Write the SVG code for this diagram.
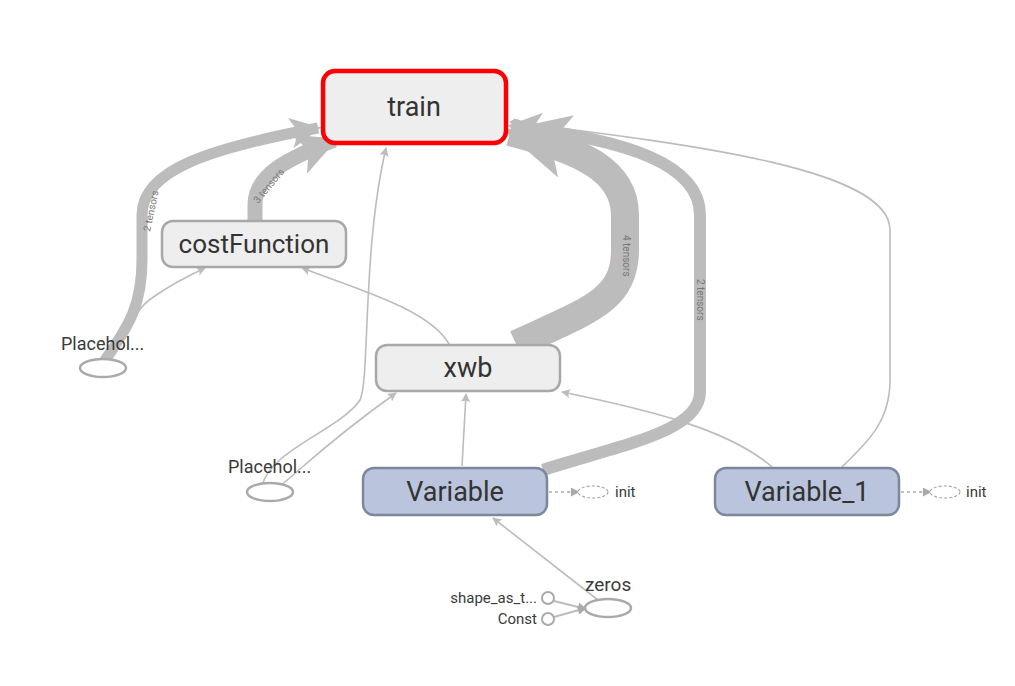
<svg xmlns="http://www.w3.org/2000/svg" width="1015" height="686" viewBox="0 0 1015 686">
<style>
.bg{fill:#fff}
.op rect{fill:#eeeeee;stroke:#a8a8a8;stroke-width:2.5}
.var rect{fill:#bac5dd;stroke:#7d889c;stroke-width:2.5}
.lbl{font-family:Roboto,"Liberation Sans",sans-serif;fill:#333;text-anchor:middle}
.sm{font-family:Roboto,"Liberation Sans",sans-serif;fill:#3a3a3a}
.el{font-family:Roboto,"Liberation Sans",sans-serif;font-size:10px;fill:#777}
.e{fill:none;stroke:#bcbcbc}
.thin{stroke-width:1.6;marker-end:url(#ah)}
.ell{fill:#fff;stroke:#aaa;stroke-width:2.5}
</style>
<defs>
<marker id="ah" viewBox="0 0 10 10" refX="9" refY="5" markerWidth="11" markerHeight="9" markerUnits="userSpaceOnUse" orient="auto"><path d="M0,0 L10,5 L0,10 L2,5 z" fill="#bcbcbc"/></marker>
<marker id="big" viewBox="0 0 10 10" refX="9" refY="5" markerWidth="3.6" markerHeight="2.8" markerUnits="strokeWidth" orient="auto"><path d="M0,0 L10,5 L0,10 L2.5,5 z" fill="#bcbcbc"/></marker>
<marker id="bigs" viewBox="0 0 10 10" refX="9" refY="5" markerWidth="2.4" markerHeight="2.3" markerUnits="strokeWidth" orient="auto"><path d="M0,0 L10,5 L0,10 L2.5,5 z" fill="#bcbcbc"/></marker>
<marker id="dah" viewBox="0 0 10 10" refX="9" refY="5" markerWidth="10" markerHeight="9" markerUnits="userSpaceOnUse" orient="auto"><path d="M0,0 L10,5 L0,10 z" fill="#aaa"/></marker>
</defs>
<rect class="bg" width="1015" height="686"/>
<g id="edges">
<path class="e" stroke-width="11" marker-end="url(#big)" d="M104,362 C125,330 142,310 142,260 L142,215 C142,170 210,148 318,128"/>
<path class="e" stroke-width="15" marker-end="url(#big)" d="M255,222 L255,205 C255,175 285,160 334,140"/>
<path class="e" stroke-width="28" marker-end="url(#bigs)" d="M516,344 C590,310 625,300 625,250 L625,215 C625,170 580,150 510,132"/>
<path class="e" stroke-width="12" marker-end="url(#big)" d="M543,470 C620,445 700,432 700,392 L700,215 C700,165 630,140 511,126"/>
<path class="e thin" d="M842,467 C870,440 890,420 890,380 L890,230 C890,170 700,145 510,122"/>
<path class="e thin" d="M449,344 C430,310 360,290 302,268"/>
<path class="e thin" d="M104,362 C125,330 140,305 152,298 C170,285 190,275 205,268"/>
<path class="e thin" d="M280,486 C300,470 330,440 396,393"/>
<path class="e thin" d="M262,486 C270,450 340,430 360,400 C370,380 362,250 386,148"/>
<path class="e thin" d="M462,466 L466,394"/>
<path class="e thin" d="M772,467 C730,430 650,410 562,392"/>
<path class="e thin" d="M598,600 L493,518"/>
<path class="e" stroke-width="2" stroke="#aaa" marker-end="url(#dah)" d="M554,601 L586,609"/>
<path class="e" stroke-width="2" stroke="#aaa" marker-end="url(#dah)" d="M554,617 L586,608"/>
<path fill="none" stroke="#aaa" stroke-width="1.5" stroke-dasharray="3,3" marker-end="url(#dah)" d="M549,492 L579,492"/>
<path fill="none" stroke="#aaa" stroke-width="1.5" stroke-dasharray="3,3" marker-end="url(#dah)" d="M901,492 L931,492"/>
<text class="el" transform="translate(150,232) rotate(-78)">2 tensors</text>
<text class="el" transform="translate(258,204) rotate(-50)">3 tensors</text>
<text class="el" transform="translate(623,235) rotate(90)">4 tensors</text>
<text class="el" transform="translate(697,279) rotate(90)">2 tensors</text>
</g>
<g id="train" class="op"><rect x="323" y="71" width="183" height="72" rx="12" style="stroke:#ff0000;stroke-width:4.5"/><text class="lbl" x="414" y="116" font-size="27">train</text></g>
<g id="costFunction" class="op"><rect x="162" y="221" width="184" height="46" rx="11"/><text class="lbl" x="254" y="253" font-size="26">costFunction</text></g>
<g id="xwb" class="op"><rect x="376" y="345" width="184" height="46" rx="11"/><text class="lbl" x="468" y="377" font-size="27">xwb</text></g>
<g id="Variable" class="var"><rect x="363" y="468" width="184" height="47" rx="11"/><text class="lbl" x="455" y="501" font-size="27">Variable</text></g>
<g id="Variable_1" class="var"><rect x="715" y="468" width="184" height="47" rx="11"/><text class="lbl" x="807" y="501" font-size="27">Variable_1</text></g>
<g id="Placeholder"><ellipse class="ell" cx="103" cy="368" rx="23" ry="9"/><text class="sm" x="61" y="350" font-size="18">Placehol...</text></g>
<g id="Placeholder_1"><ellipse class="ell" cx="270" cy="492" rx="23" ry="9"/><text class="sm" x="228" y="473" font-size="18">Placehol...</text></g>
<g id="init"><ellipse cx="593" cy="492" rx="15" ry="6" fill="#fff" stroke="#aaa" stroke-width="1.2" stroke-dasharray="3,2"/><text class="sm" x="615" y="497" font-size="15">init</text></g>
<g id="init_1"><ellipse cx="945" cy="492" rx="15" ry="6" fill="#fff" stroke="#aaa" stroke-width="1.2" stroke-dasharray="3,2"/><text class="sm" x="966" y="497" font-size="15">init</text></g>
<g id="zeros"><ellipse class="ell" cx="608" cy="608" rx="23" ry="9"/><text class="sm" x="585" y="591" font-size="19">zeros</text></g>
<g id="shape_as_tensor"><circle cx="548" cy="598" r="6" fill="#fff" stroke="#aaa" stroke-width="2"/><text class="sm" x="537" y="603" font-size="15" text-anchor="end">shape_as_t...</text></g>
<g id="Const"><circle cx="548" cy="619" r="6" fill="#fff" stroke="#aaa" stroke-width="2"/><text class="sm" x="537" y="624" font-size="15" text-anchor="end">Const</text></g>
</svg>
